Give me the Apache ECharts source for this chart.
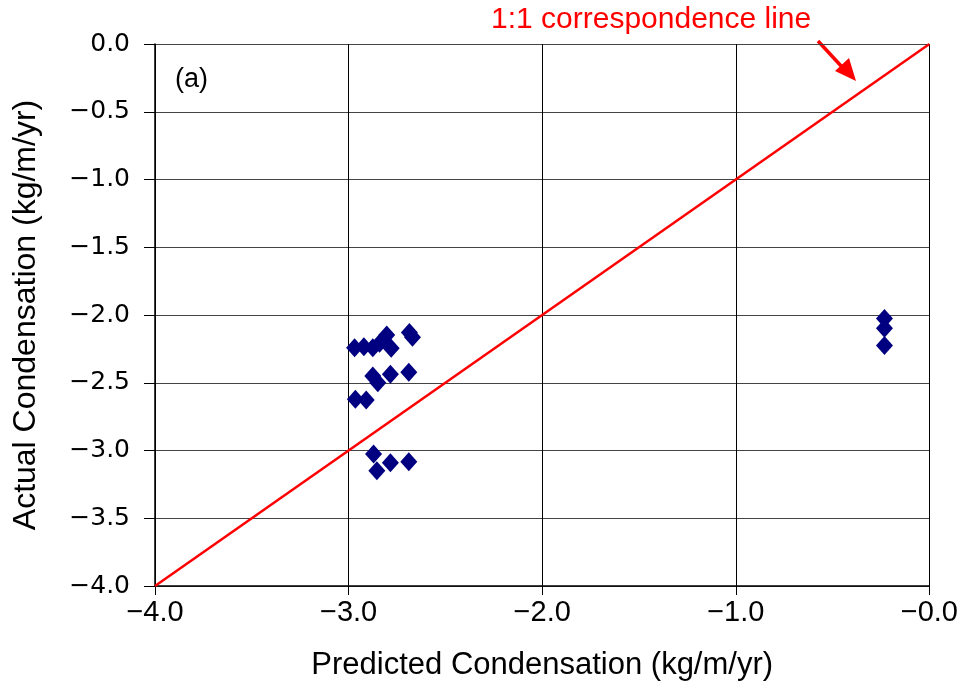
<!DOCTYPE html>
<html><head><meta charset="utf-8">
<script src="https://cdn.jsdelivr.net/npm/echarts@6/dist/echarts.min.js"></script>
<style>html,body{margin:0;padding:0;background:#fff}#c{width:961px;height:691px}</style>
</head><body><div id="c"></div>
<script>
const predicted = [-2.969,-2.921,-2.875,-2.840,-2.803,-2.780,-2.686,-2.670,-2.875,-2.849,-2.784,-2.689,-2.965,-2.909,-2.871,-2.854,-2.784,-2.689,-0.232,-0.232,-0.232];
const actual    = [-2.241,-2.234,-2.241,-2.209,-2.148,-2.246,-2.130,-2.165,-2.450,-2.500,-2.438,-2.423,-2.622,-2.627,-3.026,-3.149,-3.090,-3.083,-2.025,-2.098,-2.225];
const oneToOne = [[-4,-4],[0,0]];
const annotation = "1:1 correspondence line";
const panelLabel = "(a)";
const xTitle = "Predicted Condensation (kg/m/yr)";
const yTitle = "Actual Condensation (kg/m/yr)";

function labelX(v){ return '\u2212' + Math.abs(v).toFixed(1); }
function labelY(v){ return v === 0 ? '0.0' : '\u2212' + Math.abs(v).toFixed(1); }

const chart = echarts.init(document.getElementById('c'));
const font = 'Liberation Sans, Arial, sans-serif';
chart.setOption({
  animation:false,
  grid:{left:155,right:30,top:44,bottom:105},
  xAxis:{type:'value',min:-4,max:0,interval:1,
    name:xTitle,nameLocation:'middle',nameGap:64,
    nameTextStyle:{fontSize:31,color:'#000',fontFamily:font},
    axisLine:{onZero:false,lineStyle:{color:'#000',width:1.5}},
    axisTick:{show:true,length:9,lineStyle:{color:'#000'}},
    axisLabel:{formatter:labelX,fontSize:29,color:'#000',fontFamily:font,margin:12},
    splitLine:{show:true,lineStyle:{color:'#000',width:1}}},
  yAxis:{type:'value',min:-4,max:0,interval:0.5,
    name:yTitle,nameLocation:'middle',nameGap:113,
    nameTextStyle:{fontSize:32,color:'#000',fontFamily:font},
    axisLine:{onZero:false,lineStyle:{color:'#000',width:1.5}},
    axisTick:{show:true,length:11,lineStyle:{color:'#000'}},
    axisLabel:{formatter:labelY,fontSize:25,color:'#000',fontFamily:'DejaVu Sans, sans-serif',margin:25},
    splitLine:{show:true,lineStyle:{color:'#444',width:1}}},
  series:[
    {type:'line',data:oneToOne,symbol:'none',lineStyle:{color:'#ff0000',width:2.5},z:2},
    {type:'scatter',data:predicted.map((x,i)=>[x,actual[i]]),symbol:'diamond',symbolSize:[17,19],
      itemStyle:{color:'#000080',opacity:1},z:3}
  ],
  graphic:[
    {type:'text',left:491,top:5,style:{text:annotation,fill:'#ff0000',fontSize:30,fontFamily:font}},
    {type:'text',left:175,top:66,style:{text:panelLabel,fill:'#000',font:'27px Liberation Sans, Arial, sans-serif'}},
    {type:'line',shape:{x1:818,y1:41,x2:843,y2:68},style:{stroke:'#ff0000',lineWidth:3.5}},
    {type:'polygon',shape:{points:[[856,81],[835,71],[849,58]]},style:{fill:'#ff0000'}}
  ]
});
</script></body></html>
